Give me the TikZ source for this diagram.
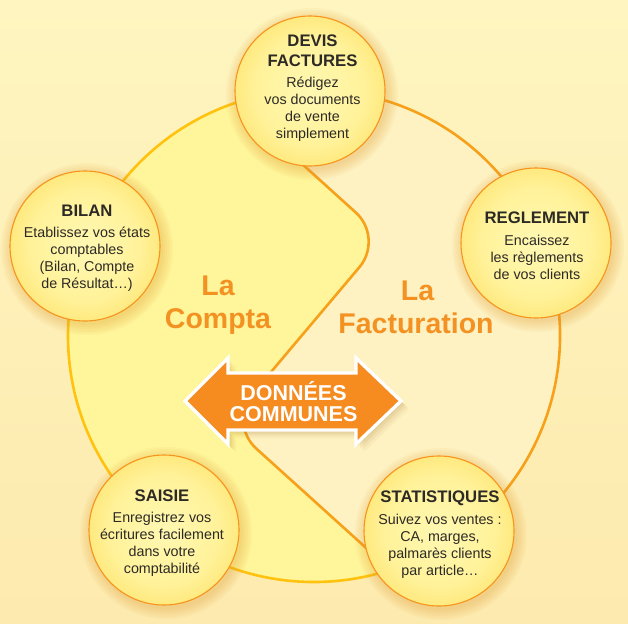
\documentclass[tikz,border=0pt]{standalone}
\usepackage{fontspec}
\setmainfont{Liberation Sans}
\usetikzlibrary{calc}
\definecolor{compta}{HTML}{FFF59A}
\definecolor{factu}{HTML}{FEF2C2}
\definecolor{bgtop}{HTML}{FEF5C0}
\definecolor{bgbot}{HTML}{FDEAAE}
\definecolor{goldline}{HTML}{FFC20E}
\definecolor{orangeline}{HTML}{F7A11A}
\definecolor{orangetxt}{HTML}{F39222}
\definecolor{arrowfill}{HTML}{F68B1F}
\definecolor{rim}{HTML}{F7941D}
\definecolor{txt}{HTML}{2D2A26}
\definecolor{haloc}{HTML}{E09A30}
\definecolor{cA}{HTML}{FFF8B2}
\definecolor{cB}{HTML}{FFF29A}
\definecolor{cC}{HTML}{FFDA4E}
\definecolor{cD}{HTML}{FFC52C}
\definecolor{cE}{HTML}{FDB328}
\pgfdeclareradialshading{sunball}{\pgfpoint{0bp}{0bp}}{color(0bp)=(cA); color(18bp)=(cB); color(38bp)=(cC); color(46bp)=(cD); color(50bp)=(cE)}
\tikzset{
  sun/.style={circle, minimum size=150pt, inner sep=0pt, shading=sunball, draw=rim, line width=1.1pt},
  ttl/.style={font=\fontsize{16.7}{19.3}\selectfont\bfseries, text=txt, align=center, inner sep=0pt, anchor=north},
  bodytxt/.style={font=\fontsize{14.3}{17}\selectfont, text=txt, align=center, inner sep=0pt, anchor=north},
  bigtxt/.style={font=\fontsize{28.5}{33}\selectfont\bfseries, text=orangetxt, inner sep=0pt, anchor=base},
  arrtxt/.style={font=\fontsize{21.5}{21}\selectfont\bfseries, text=white, inner sep=0pt, anchor=base},
  halo/.style={fill=haloc, fill opacity=0.06, draw=none},
  sline/.style={draw=orangeline, line width=2.6pt, rounded corners=38pt},
}
\def\arrowpath{(185,-401) -- (228,-358) -- (228,-373) -- (356,-373) -- (356,-358) -- (401,-401) -- (356,-444) -- (356,-430) -- (228,-430) -- (228,-444) -- cycle}
\begin{document}
\begin{tikzpicture}[x=1pt,y=1pt]
\useasboundingbox (0,0) rectangle (628,-623);
\shade[top color=bgtop, bottom color=bgbot] (0,0) rectangle (628,-623);
% big circle
\coordinate (O) at (314,-336);
\fill[factu] (O) circle (246);
\begin{scope}
  \clip (O) circle (246);
  \fill[compta, rounded corners=38pt] (240,-108) -- (384,-238) -- (228,-423) -- (480,-650) -- (-50,-650) -- (-50,0) -- (240,0) -- cycle;
\end{scope}
\draw[goldline, line width=2.6pt] (O) ++(90:246) arc[start angle=90, end angle=300, radius=246];
\draw[orangeline, line width=2.6pt] (O) ++(-60:246) arc[start angle=-60, end angle=90, radius=246];
% S separation line
\coordinate (s0) at (280,-144);
\coordinate (s1) at (384,-238);
\coordinate (s2) at (228,-423);
\coordinate (s3) at (385,-565);
\draw[sline] (s0) -- (s1) -- (s2) -- (s3);
% big labels
\node[bigtxt] (la1) at (218,-295) {La};
\node[bigtxt] (compta) at (218,-328) {Compta};
\node[bigtxt] (la2) at (417.5,-300) {La};
\node[bigtxt] (factur) at (416,-333) {Facturation};
% arrow
\foreach \s/\o in {2/0.10,4/0.09,6/0.07,8/0.05}
  \fill[haloc!70!black, fill opacity=\o, xshift=\s pt, yshift=-\s pt] \arrowpath;
\filldraw[fill=arrowfill, draw=white, line width=3.4pt, line join=miter] \arrowpath;
\node[arrtxt] (don) at (293.5,-400) {DONNÉES};
\node[arrtxt] (com) at (293.5,-421) {COMMUNES};
% circle positions
\coordinate (cDevis) at (310,-91);
\coordinate (cBilan) at (85,-246);
\coordinate (cRegl) at (536,-243);
\coordinate (cSaisie) at (164,-530);
\coordinate (cStat) at (439,-531);
\foreach \c in {cDevis,cBilan,cRegl,cSaisie,cStat}
  \foreach \r in {76,78,80,82,84,86}
    \fill[halo] ([shift={(2,-3)}]\c) circle (\r);
\node[sun] (devis) at (cDevis) {};
\node[sun] (bilan) at (cBilan) {};
\node[sun] (regl) at (cRegl) {};
\node[sun] (saisie) at (cSaisie) {};
\node[sun] (stat) at (cStat) {};
% texts
\node[ttl] (devisT) at (312.5,-35) {DEVIS\\FACTURES};
\node[bodytxt] (devisB) at (312.5,-76.6) {Rédigez\\vos documents\\de vente\\simplement};
\node[ttl] (bilanT) at (87,-205) {BILAN};
\node[bodytxt] (bilanB) at (87,-226.6) {Etablissez vos états\\comptables\\(Bilan, Compte\\de Résultat…)};
\node[ttl] (reglT) at (537,-212) {REGLEMENT};
\node[bodytxt] (reglB) at (537,-234.6) {Encaissez\\les règlements\\de vos clients};
\node[ttl] (saisieT) at (162,-490) {SAISIE};
\node[bodytxt] (saisieB) at (162,-511.6) {Enregistrez vos\\écritures facilement\\dans votre\\comptabilité};
\node[ttl] (statT) at (440,-491) {STATISTIQUES};
\node[bodytxt] (statB) at (440,-513.6) {Suivez vos ventes :\\CA, marges,\\palmarès clients\\par article…};
\end{tikzpicture}
\end{document}
